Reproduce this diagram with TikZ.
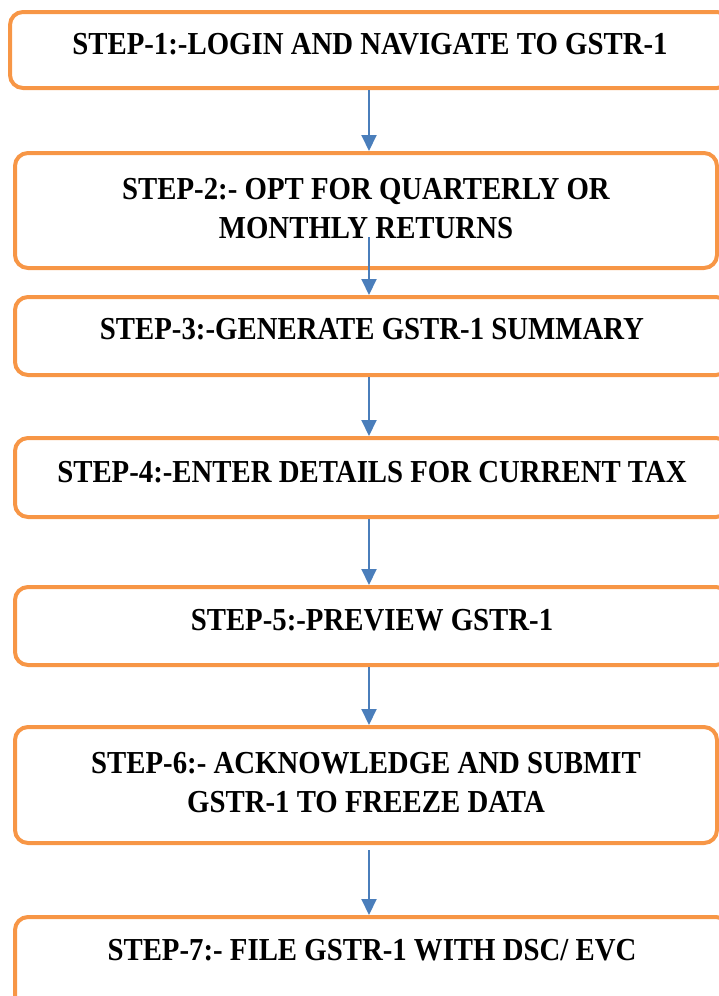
\documentclass[tikz,border=0pt]{standalone}
\usepackage{fontspec}
\setmainfont{Liberation Serif}[BoldFont={Liberation Serif Bold},FakeStretch=0.9]
\usetikzlibrary{arrows.meta}
\definecolor{boxorange}{HTML}{F79646}
\definecolor{arrowblue}{HTML}{4A7EBB}

\begin{document}
\begin{tikzpicture}[x=1pt,y=-1pt,
	stepbox/.style={draw=boxorange,line width=4pt,rounded corners=13pt,inner sep=0pt,
		align=center,font=\fontsize{32}{39}\selectfont\bfseries,text depth=13pt},
	arrowline/.style={draw=arrowblue,line width=2pt,-{Triangle[width=15pt,length=16pt]}}]
	\useasboundingbox (0,0) rectangle (719,996);
	\clip (0,0) rectangle (719,996);
	\coordinate (arrow-x) at (369,0);
	\node[stepbox,minimum width=720pt,minimum height=76pt] (step-1) at (370,50)
		{STEP-1:-LOGIN AND NAVIGATE TO GSTR-1};
	\node[stepbox,minimum width=702pt,minimum height=115pt,text depth=5pt] (step-2) at (366,210.5)
		{STEP-2:- OPT FOR QUARTERLY OR\\MONTHLY RETURNS};
	\node[stepbox,minimum width=714pt,minimum height=78pt,text depth=15pt] (step-3) at (372,336)
		{STEP-3:-GENERATE GSTR-1 SUMMARY};
	\node[stepbox,minimum width=714pt,minimum height=79pt,text depth=11pt] (step-4) at (372,477.5)
		{STEP-4:-ENTER DETAILS FOR CURRENT TAX};
	\node[stepbox,minimum width=714pt,minimum height=78pt,text depth=12pt] (step-5) at (372,626)
		{STEP-5:-PREVIEW GSTR-1};
	\node[stepbox,minimum width=702pt,minimum height=116pt,text depth=5pt] (step-6) at (366,785)
		{STEP-6:- ACKNOWLEDGE AND SUBMIT\\GSTR-1 TO FREEZE DATA};
	\node[stepbox,minimum width=714pt,minimum height=100pt,text depth=35pt] (step-7) at (372,967)
		{STEP-7:- FILE GSTR-1 WITH DSC/ EVC};
	\draw[arrowline] (step-1.south -| arrow-x) -- (step-2.north -| arrow-x);
	\draw[arrowline] ([yshift=33pt]step-2.south -| arrow-x) -- (step-3.north -| arrow-x);
	\draw[arrowline] (step-3.south -| arrow-x) -- (step-4.north -| arrow-x);
	\draw[arrowline] (step-4.south -| arrow-x) -- (step-5.north -| arrow-x);
	\draw[arrowline] (step-5.south -| arrow-x) -- (step-6.north -| arrow-x);
	\draw[arrowline,shorten <=5pt] (step-6.south -| arrow-x) -- (step-7.north -| arrow-x);
\end{tikzpicture}
\end{document}
